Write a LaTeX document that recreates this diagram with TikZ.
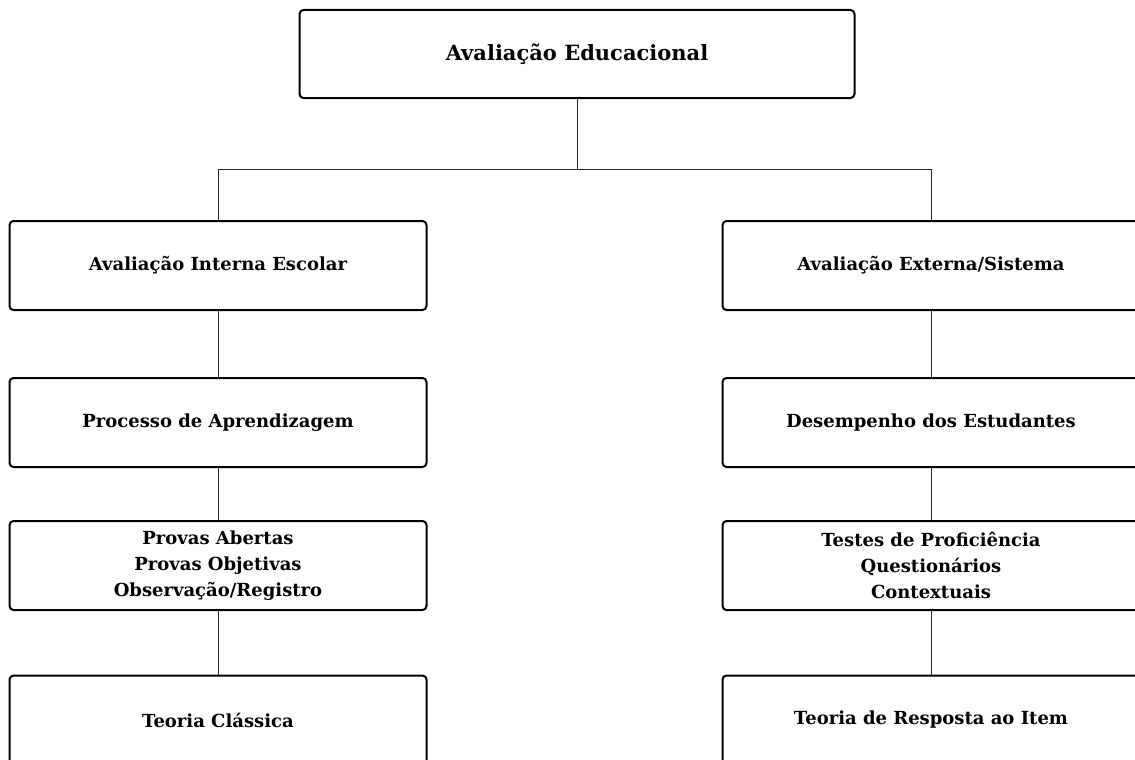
\documentclass[tikz,border=0pt]{standalone}
\usepackage{fontspec}
\setmainfont{DejaVu Serif}
\begin{document}
\begin{tikzpicture}[x=1pt,y=-1pt,
  box/.style={draw=black, line width=2pt, rounded corners=4pt, fill=white,
    minimum width=417pt, minimum height=89pt, inner sep=0pt, align=center,
    font=\fontsize{18pt}{26pt}\selectfont\bfseries},
  topbox/.style={box, minimum width=555pt, minimum height=88pt,
    font=\fontsize{21pt}{26pt}\selectfont\bfseries},
  link/.style={draw=black!85, line width=0.9pt}]
\useasboundingbox (0,0) rectangle (1135,760);
\node[topbox] (top) at (577,54) {Avaliação Educacional};
\node[box] (l1) at (218,265.5) {Avaliação Interna Escolar};
\node[box] (r1) at (931,265.5) {Avaliação Externa/Sistema};
\node[box] (l2) at (218,422.5) {Processo de Aprendizagem};
\node[box] (r2) at (931,422.5) {Desempenho dos Estudantes};
\node[box] (l3) at (218,565.5) {Provas Abertas\\Provas Objetivas\\Observação/Registro};
\node[box] (r3) at (931,565.5) {Testes de Proficiência\\Questionários\\Contextuais};
\node[box] (l4) at (218,720) {Teoria Clássica};
\node[box] (r4) at (931,720) {Teoria de Resposta ao Item};
\coordinate (j) at (577,169);
\coordinate (jl) at (218,169);
\coordinate (jr) at (931,169);
\draw[link] (top.south) -- (j);
\draw[link] (jl) -- (jr);
\draw[link] (jl) -- (l1.north);
\draw[link] (jr) -- (r1.north);
\draw[link] (l1) -- (l2);
\draw[link] (l2) -- (l3);
\draw[link] (l3) -- (l4);
\draw[link] (r1) -- (r2);
\draw[link] (r2) -- (r3);
\draw[link] (r3) -- (r4);
\end{tikzpicture}
\end{document}
